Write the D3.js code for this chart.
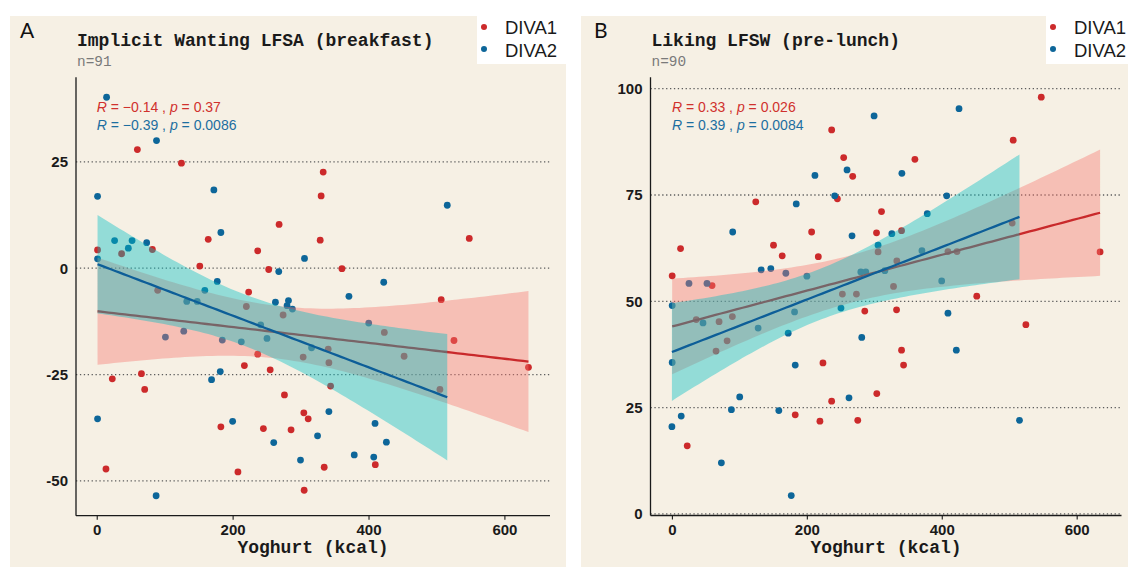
<!DOCTYPE html>
<html>
<head>
<meta charset="utf-8">
<script src="https://cdn.jsdelivr.net/npm/d3@7"></script>
<style>
  html, body { margin: 0; padding: 0; background: #ffffff; }
  svg { display: block; }
</style>
</head>
<body>
<svg id="chart" width="1128" height="568"></svg>
<script>
// ---- Data -------------------------------------------------------------
const groups = ["DIVA1", "DIVA2"];

// Panel A: Implicit Wanting LFSA (breakfast) vs yoghurt kcal
const a_diva1_x = [59.8,124.7,268.4,164.1,236.9,253.1,151.7,1.2,36.6,81.9,223.6,89.7,220.2,274.3,236.9,303.8,217.3,255.3,22.9,65.8,70.6,276.3,182.7,245.3,286,304.8,311.2,305.3,13.6,207.8,333.3,330.3,328.9,548.3,360.9,507,423.3,525.8,340.7,341.7,452.4,635.4,505.1,344.2,410,334.8];
const a_diva1_y = [27.9,24.7,10.3,6.8,4.1,-0.3,0.5,4.3,3.4,4.4,-5.6,-5.2,-9.0,-11.0,-20.2,-20.9,-22.9,-23.9,-26.0,-24.8,-28.5,-29.8,-37.3,-37.7,-38.0,-34.0,-35.4,-52.2,-47.2,-47.9,22.6,17.0,6.6,7.0,-0.1,-7.4,-15.1,-17.0,-19.0,-22.2,-20.7,-23.3,-28.5,-27.7,-46.2,-46.8];
const a_diva2_x = [14.5,88,1.2,172.4,182.7,305.8,267.9,1.2,26.3,52,46.5,73.5,177.4,159.1,132.5,147.9,263,282.2,280.1,288,101.1,128.1,184.8,212.8,241.3,250.6,316.2,169,181.8,1.2,200,260.5,325,299.9,87.4,515.9,422.4,371.2,400.3,341.7,409.6,426.3,379,407.7];
const a_diva2_y = [40.2,30.0,16.9,18.4,8.4,2.3,-0.8,2.2,6.5,6.5,4.7,6.0,-3.1,-5.2,-7.8,-7.8,-8.0,-7.6,-8.8,-9.6,-16.2,-14.8,-16.9,-17.3,-13.3,-16.5,-18.7,-26.2,-24.3,-35.4,-36.0,-41.0,-39.4,-45.1,-53.5,14.8,-3.3,-6.6,-12.9,-33.7,-36.5,-40.9,-43.9,-44.4];

// Panel B: Liking LFSW (pre-lunch) vs yoghurt kcal
const b_diva1_x = [236.8,254.6,268,245.3,310.7,124.3,207.1,303.3,12.8,150.6,163.5,217,305.6,0.4,59.5,252.7,273.5,547.5,505.9,360.2,340.4,504.4,409.2,422.6,333.4,634.7,328.5,451.9,36.1,69.9,89.6,81.8,65.4,223.9,285.9,303.7,236.8,182.8,219.4,275.5,22.7,333,524.7,340.4,343.4];
const b_diva1_y = [90.3,83.8,79.4,74.1,71.1,73.4,66.3,66.1,62.4,63.2,60.7,60.5,61.6,56.0,53.7,51.7,51.7,98.0,87.9,83.4,66.6,68.4,61.7,61.7,59.5,61.6,53.5,51.2,45.7,45.2,46.4,40.7,38.3,35.5,47.7,28.3,26.5,23.3,21.8,22.0,16.0,48.0,44.5,38.5,35.0];
const b_diva2_x = [299.7,259.6,212,241.3,184.3,90.1,267,305.6,25.3,52,132.3,146.6,168.9,200.1,280,287.4,425.6,340.9,407.3,378.5,326,370.6,315.6,399.9,0.4,46.1,127.8,0.4,172.4,181.8,182.8,250.6,281.4,262.5,158.5,100.5,88.2,13.8,0,73.3,176.9,409.2,421.6,515.2];
const b_diva2_y = [93.6,80.9,79.6,74.8,72.9,66.3,65.4,63.2,54.2,54.2,57.4,57.7,56.6,55.9,56.9,56.9,95.3,80.1,74.8,70.6,65.9,61.9,57.2,54.8,49.0,44.9,43.7,35.6,42.5,47.5,35.0,48.4,41.5,27.3,24.3,27.5,24.5,23.0,20.5,12.0,4.3,47.2,38.5,22.0];

// Correlation labels (Pearson R and p per group)
const a_r = ["\u22120.14", "\u22120.39"];
const a_p = ["0.37", "0.0086"];
const b_r = ["0.33", "0.39"];
const b_p = ["0.026", "0.0084"];

// Axis ticks
const xTicks = [0, 200, 400, 600];
const a_yTicks = [-50, -25, 0, 25];
const b_yTicks = [0, 25, 50, 75, 100];

// ---- Styling ----------------------------------------------------------
const panelBg = "#F6F0E4";
const pointCol = ["#CC2A2B", "#0D6699"];
const lineCol = ["#C9292B", "#0D5E98"];
const bandCol = ["#F8766D", "#00BFC4"];
const labelCol = ["#D0312D", "#1C6EA0"];
const monoFont = "'Liberation Mono', 'Courier New', monospace";
const sansFont = "'Liberation Sans', Arial, sans-serif";

const svg = d3.select("#chart");

// Two-sided 95% t quantile (Cornish-Fisher expansion around the normal)
function tQuantile975(df) {
  const z = 1.959964;
  const z3 = z * z * z, z5 = z3 * z * z, z7 = z5 * z * z;
  return z + (z3 + z) / (4 * df) + (5 * z5 + 16 * z3 + 3 * z) / (96 * df * df)
    + (3 * z7 + 19 * z5 + 17 * z3 - 15 * z) / (384 * df * df * df);
}

// Ordinary least squares fit with 95% confidence band for the mean
function linearFit(xs, ys) {
  const n = xs.length;
  const mx = d3.mean(xs), my = d3.mean(ys);
  let sxx = 0, sxy = 0;
  for (let i = 0; i < n; i++) { sxx += (xs[i] - mx) ** 2; sxy += (xs[i] - mx) * (ys[i] - my); }
  const b = sxy / sxx, a = my - b * mx;
  let sse = 0;
  for (let i = 0; i < n; i++) sse += (ys[i] - (a + b * xs[i])) ** 2;
  const s = Math.sqrt(sse / (n - 2));
  const t = tQuantile975(n - 2);
  const [x0, x1] = d3.extent(xs);
  const pts = d3.range(80).map(i => {
    const x = x0 + (x1 - x0) * i / 79;
    const fit = a + b * x;
    const se = s * Math.sqrt(1 / n + (x - mx) ** 2 / sxx);
    return { x, fit, lo: fit - t * se, hi: fit + t * se };
  });
  return pts;
}

function expanded(vals) {
  const [lo, hi] = d3.extent(vals);
  const pad = (hi - lo) * 0.05;
  return [lo - pad, hi + pad];
}

function drawPanel(p) {
  const g = svg.append("g");

  // panel background
  g.append("rect").attr("x", p.bg[0]).attr("y", p.bg[1])
    .attr("width", p.bg[2]).attr("height", p.bg[3]).attr("fill", panelBg);

  const allX = p.xs[0].concat(p.xs[1]);
  const allY = p.ys[0].concat(p.ys[1]);
  const x = d3.scaleLinear().domain(expanded(allX)).range([p.left, p.right]);
  const y = d3.scaleLinear().domain(expanded(allY)).range([p.bottom, p.top]);

  const clipId = "clip-" + p.id;
  g.append("clipPath").attr("id", clipId).append("rect")
    .attr("x", p.left).attr("y", p.top)
    .attr("width", p.right - p.left).attr("height", p.bottom - p.top);

  // dotted horizontal grid lines
  g.append("g").selectAll("line").data(p.yTicks).join("line")
    .attr("x1", p.left).attr("x2", p.right)
    .attr("y1", d => y(d)).attr("y2", d => y(d))
    .attr("stroke", "#5c5c5c").attr("stroke-width", 1.3)
    .attr("stroke-dasharray", "1.3,2.6");

  // points
  const plot = g.append("g").attr("clip-path", `url(#${clipId})`);
  groups.forEach((grp, gi) => {
    plot.append("g").selectAll("circle")
      .data(p.xs[gi].map((v, i) => [v, p.ys[gi][i]]))
      .join("circle")
      .attr("cx", d => x(d[0])).attr("cy", d => y(d[1]))
      .attr("r", 3.4).attr("fill", pointCol[gi]);
  });

  // regression bands and lines, drawn per group
  groups.forEach((grp, gi) => {
    const fit = linearFit(p.xs[gi], p.ys[gi]);
    plot.append("path").datum(fit)
      .attr("d", d3.area().x(d => x(d.x)).y0(d => y(d.lo)).y1(d => y(d.hi)))
      .attr("fill", bandCol[gi]).attr("fill-opacity", 0.4);
    plot.append("path").datum(fit)
      .attr("d", d3.line().x(d => x(d.x)).y(d => y(d.fit)))
      .attr("fill", "none").attr("stroke", lineCol[gi]).attr("stroke-width", 2.3);
  });

  // correlation labels
  groups.forEach((grp, gi) => {
    const t = g.append("text")
      .attr("x", x(0)).attr("y", p.labelY[gi])
      .attr("font-family", sansFont).attr("font-size", 14)
      .attr("fill", labelCol[gi]);
    t.append("tspan").attr("font-style", "italic").text("R");
    t.append("tspan").text(" = " + p.r[gi] + " , ");
    t.append("tspan").attr("font-style", "italic").text("p");
    t.append("tspan").text(" = " + p.p[gi]);
  });

  // axes
  const xAxis = d3.axisBottom(x).tickValues(xTicks).tickSize(4).tickPadding(5)
    .tickFormat(d => String(d));
  const gx = g.append("g").attr("transform", `translate(0,${p.bottom})`).call(xAxis);
  gx.select(".domain").attr("stroke", "#1a1a1a").attr("stroke-width", 1.3)
    .attr("d", `M${p.left},0H${p.right}`);
  gx.selectAll(".tick line").attr("stroke", "#1a1a1a").attr("stroke-width", 1.1);
  gx.selectAll(".tick text").attr("font-family", sansFont).attr("font-size", 15)
    .attr("font-weight", "bold").attr("fill", "#1a1a1a");

  const yAxis = d3.axisLeft(y).tickValues(p.yTicks).tickSize(0).tickPadding(8)
    .tickFormat(d => String(d));
  const gy = g.append("g").attr("transform", `translate(${p.left},0)`).call(yAxis);
  gy.select(".domain").attr("stroke", "#1a1a1a").attr("stroke-width", 1.3)
    .attr("d", `M0,${p.top}V${p.bottom}`);
  gy.selectAll(".tick text").attr("font-family", sansFont).attr("font-size", 15)
    .attr("font-weight", "bold").attr("fill", "#1a1a1a");

  // axis title
  g.append("text").attr("x", (p.left + p.right) / 2).attr("y", 552.5)
    .attr("text-anchor", "middle").attr("font-family", monoFont)
    .attr("font-weight", "bold").attr("font-size", 18).attr("fill", "#1a1a1a")
    .text("Yoghurt (kcal)");

  // title, subtitle and panel tag
  g.append("text").attr("x", p.left + 1).attr("y", 46)
    .attr("font-family", monoFont).attr("font-weight", "bold")
    .attr("font-size", 18).attr("fill", "#1a1a1a").text(p.title);
  g.append("text").attr("x", p.left + 1).attr("y", 65.5)
    .attr("font-family", monoFont).attr("font-size", 14.4)
    .attr("fill", "#7a7a7a").text(p.subtitle);
  g.append("text").attr("x", p.tagX).attr("y", 38)
    .attr("font-family", "Lato, 'Noto Sans', sans-serif")
    .attr("font-size", 21).attr("fill", "#111").text(p.tag);

  // legend
  g.append("rect").attr("x", p.legX).attr("y", 0)
    .attr("width", p.legW).attr("height", 64).attr("fill", "#ffffff");
  groups.forEach((grp, gi) => {
    g.append("circle").attr("cx", p.legX + 7).attr("cy", 27 + gi * 22)
      .attr("r", 3).attr("fill", pointCol[gi]);
    g.append("text").attr("x", p.legX + 28).attr("y", 34 + gi * 22.7)
      .attr("font-family", sansFont).attr("font-size", 18.5)
      .attr("fill", "#1a1a1a").text(grp);
  });
}

drawPanel({
  id: "a", tag: "A", tagX: 20,
  title: "Implicit Wanting LFSA (breakfast)", subtitle: "n=91",
  bg: [10, 16, 556, 551],
  left: 76, right: 550, top: 77.3, bottom: 515.7,
  xs: [a_diva1_x, a_diva2_x], ys: [a_diva1_y, a_diva2_y],
  yTicks: a_yTicks, r: a_r, p: a_p, labelY: [111.7, 130],
  legX: 477, legW: 93
});

drawPanel({
  id: "b", tag: "B", tagX: 594,
  title: "Liking LFSW (pre-lunch)", subtitle: "n=90",
  bg: [581, 16, 547, 551],
  left: 650.5, right: 1121.5, top: 77.3, bottom: 515.5,
  xs: [b_diva1_x, b_diva2_x], ys: [b_diva1_y, b_diva2_y],
  yTicks: b_yTicks, r: b_r, p: b_p, labelY: [111.7, 130],
  legX: 1046, legW: 82
});
</script>
</body>
</html>
